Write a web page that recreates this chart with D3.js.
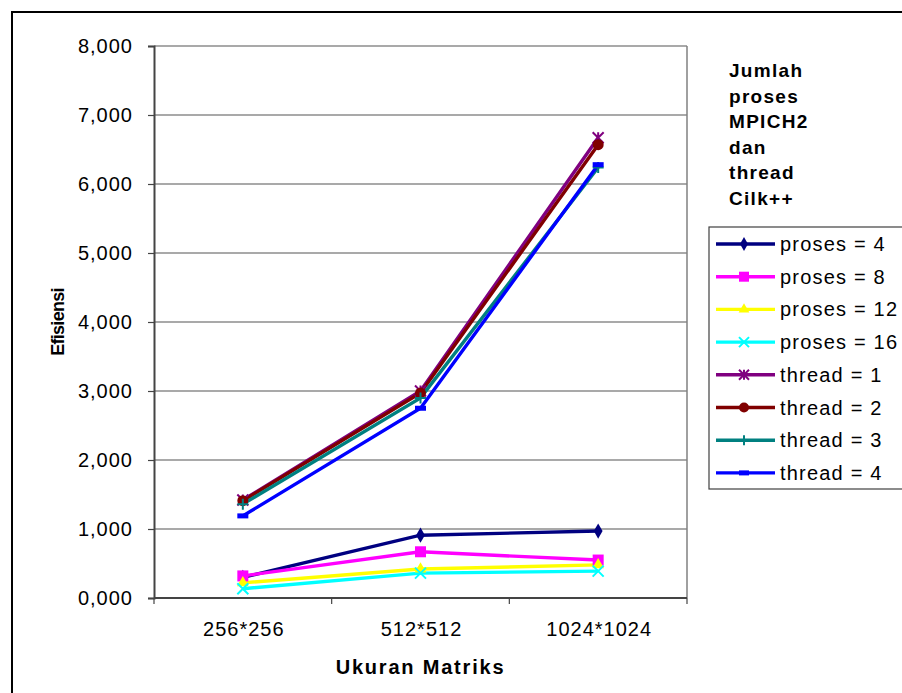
<!DOCTYPE html>
<html>
<head>
<meta charset="utf-8">
<script src="https://cdn.jsdelivr.net/npm/d3@7/dist/d3.min.js"></script>
<style>
  html, body { margin: 0; padding: 0; background: #fff; overflow: hidden; }
  svg { display: block; font-family: "Liberation Sans", Arial, sans-serif; }
</style>
</head>
<body>
<svg id="chart" width="902" height="693"></svg>
<script>
// Matrix sizes on the x axis
const categories = ["256*256", "512*512", "1024*1024"];

// Efficiency per configuration (MPICH2 processes and Cilk++ threads)
const proses4  = [0.30, 0.91, 0.97];
const proses8  = [0.32, 0.67, 0.55];
const proses12 = [0.22, 0.42, 0.48];
const proses16 = [0.135, 0.36, 0.39];
const thread1  = [1.42, 3.00, 6.67];
const thread2  = [1.41, 2.97, 6.57];
const thread3  = [1.36, 2.90, 6.24];
const thread4  = [1.19, 2.75, 6.28];

const seriesNames = ["proses = 4", "proses = 8", "proses = 12", "proses = 16",
                     "thread = 1", "thread = 2", "thread = 3", "thread = 4"];
const seriesValues = [proses4, proses8, proses12, proses16, thread1, thread2, thread3, thread4];

const yTicks = [0, 1, 2, 3, 4, 5, 6, 7, 8];
const legendTitle = ["Jumlah", "proses", "MPICH2", "dan", "thread", "Cilk++"];

const colors  = ["#000080", "#FF00FF", "#FFFF00", "#00FFFF", "#800080", "#800000", "#008080", "#0000FF"];
const markers = ["diamond", "square", "triangle", "x", "asterisk", "circle", "plus", "dash"];

const svg = d3.select("#chart");

// Outer frame
svg.append("rect")
  .attr("x", 12).attr("y", 12).attr("width", 1000).attr("height", 1000)
  .attr("fill", "none").attr("stroke", "#000").attr("stroke-width", 2);

const plot = { left: 154, right: 687, top: 46, bottom: 598 };

const x = d3.scaleBand().domain(categories).range([plot.left, plot.right]);
const y = d3.scaleLinear().domain([0, 8]).range([plot.bottom, plot.top]);

const fmt = v => d3.format(".3f")(v).replace(".", ",");

// Horizontal gridlines
svg.append("g")
  .selectAll("line")
  .data(yTicks.slice(1))
  .join("line")
  .attr("x1", plot.left).attr("x2", plot.right)
  .attr("y1", d => y(d)).attr("y2", d => y(d))
  .attr("stroke", "#555").attr("stroke-width", 1.2);

// Right border of the plot area
svg.append("line")
  .attr("x1", plot.right).attr("x2", plot.right)
  .attr("y1", plot.top).attr("y2", plot.bottom)
  .attr("stroke", "#808080").attr("stroke-width", 1.5);

// Y axis
const yAxis = svg.append("g")
  .attr("transform", `translate(${plot.left},0)`)
  .call(d3.axisLeft(y).tickValues(yTicks).tickFormat(fmt).tickSize(6).tickPadding(15));
yAxis.select(".domain").attr("stroke", "#444").attr("stroke-width", 2);
yAxis.selectAll(".tick line").attr("stroke", "#444").attr("stroke-width", 1.2);
yAxis.selectAll("text").attr("font-size", 20).attr("fill", "#000")
  .attr("letter-spacing", 1)
  .attr("font-family", "'Liberation Sans', Arial, sans-serif");

// X axis with ticks at band boundaries
const xAxisG = svg.append("g").attr("transform", `translate(0,${plot.bottom})`);
xAxisG.append("line")
  .attr("x1", plot.left).attr("x2", plot.right)
  .attr("stroke", "#444").attr("stroke-width", 2);
const bounds = categories.map(c => x(c)).concat([x(categories[categories.length - 1]) + x.bandwidth()]);
xAxisG.selectAll("line.tk")
  .data(bounds)
  .join("line")
  .attr("class", "tk")
  .attr("x1", d => d).attr("x2", d => d)
  .attr("y1", 0).attr("y2", 6)
  .attr("stroke", "#444").attr("stroke-width", 1.2);
xAxisG.selectAll("text")
  .data(categories)
  .join("text")
  .attr("x", d => x(d) + x.bandwidth() / 2 + 1)
  .attr("y", 38)
  .attr("text-anchor", "middle")
  .attr("font-size", 20)
  .attr("letter-spacing", 1)
  .text(d => d);

// Axis titles
svg.append("text")
  .attr("x", (plot.left + plot.right) / 2).attr("y", 674)
  .attr("text-anchor", "middle").attr("font-size", 20).attr("font-weight", "bold")
  .attr("letter-spacing", 1.8)
  .text("Ukuran Matriks");
svg.append("text")
  .attr("transform", `translate(64,${(plot.top + plot.bottom) / 2}) rotate(-90)`)
  .attr("text-anchor", "middle").attr("font-size", 18).attr("font-weight", "bold")
  .attr("letter-spacing", -0.7)
  .text("Efisiensi");

// Marker shapes
function drawMarker(g, type, color, size) {
  const s = size;
  switch (type) {
    case "diamond":
      g.append("path").attr("d", d3.symbol(d3.symbolDiamond, s * s * 0.55)()).attr("fill", color);
      break;
    case "square":
      g.append("rect").attr("x", -s / 2).attr("y", -s / 2).attr("width", s).attr("height", s).attr("fill", color);
      break;
    case "triangle":
      g.append("path").attr("d", d3.symbol(d3.symbolTriangle, s * s * 0.5)()).attr("fill", color);
      break;
    case "x":
      g.append("path").attr("d", `M${-s/2},${-s/2}L${s/2},${s/2}M${-s/2},${s/2}L${s/2},${-s/2}`)
        .attr("stroke", color).attr("stroke-width", 2);
      break;
    case "asterisk":
      g.append("path").attr("d", `M${-s/2},${-s/2}L${s/2},${s/2}M${-s/2},${s/2}L${s/2},${-s/2}M0,${-s/2}L0,${s/2}`)
        .attr("stroke", color).attr("stroke-width", 2);
      break;
    case "circle":
      g.append("circle").attr("r", s / 2).attr("fill", color);
      break;
    case "plus":
      g.append("path").attr("d", `M${-s/2},0L${s/2},0M0,${-s/2}L0,${s/2}`)
        .attr("stroke", color).attr("stroke-width", 2);
      break;
    case "dash":
      g.append("rect").attr("x", -s / 2).attr("y", -2.5).attr("width", s).attr("height", 5).attr("fill", color);
      break;
  }
}

// Series lines and markers
const line = d3.line()
  .x((d, i) => x(categories[i]) + x.bandwidth() / 2)
  .y(d => y(d));

const seriesG = svg.append("g");
seriesValues.forEach((vals, k) => {
  seriesG.append("path")
    .attr("d", line(vals))
    .attr("fill", "none")
    .attr("stroke", colors[k])
    .attr("stroke-width", 3.4);
});
seriesValues.forEach((vals, k) => {
  vals.forEach((v, i) => {
    const g = seriesG.append("g")
      .attr("transform", `translate(${x(categories[i]) + x.bandwidth() / 2},${y(v)})`);
    drawMarker(g, markers[k], colors[k], 11);
  });
});

// Legend title
svg.append("g").selectAll("text")
  .data(legendTitle)
  .join("text")
  .attr("x", 729)
  .attr("y", (d, i) => 77 + i * 25.6)
  .attr("font-size", 19).attr("font-weight", "bold")
  .attr("letter-spacing", 1.3)
  .text(d => d);

// Legend box
const legend = { left: 709, top: 227, bottom: 489 };
svg.append("rect")
  .attr("x", legend.left).attr("y", legend.top)
  .attr("width", 300).attr("height", legend.bottom - legend.top)
  .attr("fill", "#fff").attr("stroke", "#404040").attr("stroke-width", 1.2);

const rowY = i => 244 + i * 32.7;
seriesNames.forEach((name, k) => {
  const g = svg.append("g").attr("transform", `translate(0,${rowY(k)})`);
  g.append("line").attr("x1", 716).attr("x2", 775)
    .attr("stroke", colors[k]).attr("stroke-width", 3.4);
  const m = g.append("g").attr("transform", "translate(744,0)");
  drawMarker(m, markers[k], colors[k], 10);
  g.append("text").attr("x", 780).attr("y", 0).attr("dy", "0.35em")
    .attr("font-size", 20).attr("letter-spacing", 1.2).text(name);
});
</script>
</body>
</html>
